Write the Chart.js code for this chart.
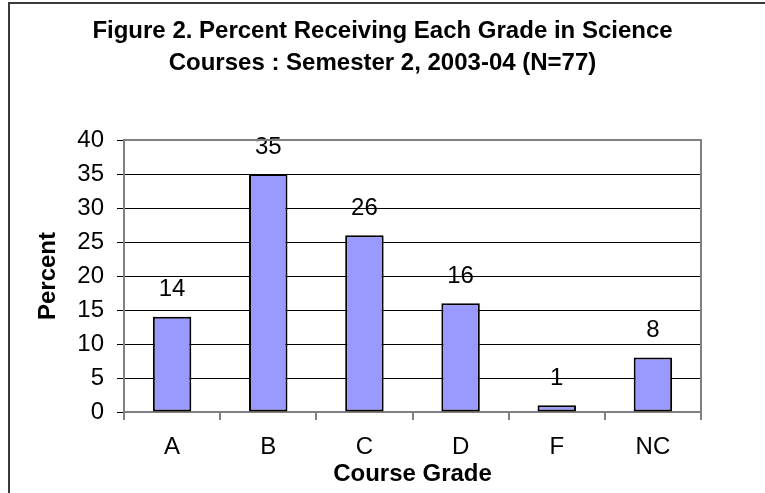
<!DOCTYPE html>
<html>
<head>
<meta charset="utf-8">
<title>Figure 2. Percent Receiving Each Grade in Science Courses</title>
<script src="https://cdn.jsdelivr.net/npm/chart.js@4/dist/chart.umd.min.js"></script>
<style>
  html, body { margin: 0; padding: 0; background: #fff; overflow: hidden; }
  #frame {
    position: absolute; left: 8px; top: 2px; width: 900px; height: 700px;
    border-left: 2px solid #3a3a3a; border-top: 2px solid #3a3a3a;
  }
  #wrap { position: absolute; left: 0; top: 0; width: 765px; height: 493px; }
</style>
</head>
<body>
<div id="frame"></div>
<div id="wrap"><canvas id="gradeChart" width="765" height="493"></canvas></div>
<script>
const titleLines = ["Figure 2. Percent Receiving Each Grade in Science", "Courses : Semester 2, 2003-04 (N=77)"];
const grades = ["A", "B", "C", "D", "F", "NC"];
const percents = [14, 35, 26, 16, 1, 8];
const yTicks = [0, 5, 10, 15, 20, 25, 30, 35, 40];

const FONT = "'Liberation Sans', Arial, sans-serif";

// chart title, centred on the whole figure (not just the plot box)
const figureTitle = {
  id: "figureTitle",
  afterDraw(chart) {
    const { ctx, width } = chart;
    ctx.save();
    ctx.font = "bold 24px " + FONT;
    ctx.fillStyle = "#000";
    ctx.textAlign = "center";
    ctx.textBaseline = "middle";
    titleLines.forEach((line, i) => ctx.fillText(line, width / 2, 31 + i * 32));
    ctx.restore();
  },
};

// plot area border (gray box like the spreadsheet plot area)
const plotBorder = {
  id: "plotBorder",
  afterDraw(chart) {
    const { ctx, chartArea: a } = chart;
    ctx.save();
    ctx.strokeStyle = "#808080";
    ctx.lineWidth = 2;
    ctx.beginPath();
    ctx.moveTo(a.left, a.top);
    ctx.lineTo(a.right, a.top);
    ctx.lineTo(a.right, a.bottom);
    ctx.stroke();
    ctx.restore();
  },
};

// value labels above each bar
const valueLabels = {
  id: "valueLabels",
  afterDatasetsDraw(chart) {
    const { ctx } = chart;
    const meta = chart.getDatasetMeta(0);
    ctx.save();
    ctx.font = "24px " + FONT;
    ctx.fillStyle = "#000";
    ctx.textAlign = "center";
    ctx.textBaseline = "middle";
    meta.data.forEach((bar, i) => {
      ctx.fillText(String(percents[i]), bar.x, bar.y - 27);
    });
    ctx.restore();
  },
};

function initGradeChart() {
  const el = document.getElementById("gradeChart");
  if (!el || typeof Chart === "undefined") return null;

  return new Chart(el.getContext("2d"), {
    type: "bar",
    data: {
      labels: grades,
      datasets: [
        {
          data: percents,
          backgroundColor: "#9999FF",
          borderColor: "#000",
          borderWidth: 2,
          borderSkipped: false,
          barPercentage: 0.4,
          categoryPercentage: 1,
        },
      ],
    },
    options: {
      responsive: false,
      animation: false,
      layout: { padding: { left: 0, right: 64, top: 140, bottom: 0 } },
      plugins: {
        legend: { display: false },
        tooltip: { enabled: false },
        title: { display: false },
      },
      scales: {
        x: {
          afterFit: (s) => { s.height = 81; },
          grid: { display: true, drawOnChartArea: false, drawTicks: true, tickLength: 8, color: "#808080", lineWidth: 2 },
          border: { display: true, color: "#808080", width: 2 },
          ticks: { color: "#000", padding: 13, font: { family: FONT, size: 24 } },
          title: {
            display: true,
            text: "Course Grade",
            color: "#000",
            font: { family: FONT, size: 24, weight: "bold" },
            padding: { top: 0, bottom: 4 },
          },
        },
        y: {
          min: 0,
          max: 40,
          afterFit: (s) => { s.width = 124; },
          afterBuildTicks: (s) => { s.ticks = yTicks.map((v) => ({ value: v })); },
          grid: {
            color: (c) => (c.tick && c.tick.value === 40 ? "rgba(0,0,0,0)" : "#000"),
            tickColor: "#000",
            lineWidth: 1,
            tickLength: 7,
          },
          border: { display: true, color: "#808080", width: 2 },
          ticks: { color: "#000", padding: 13, font: { family: FONT, size: 24 } },
          title: {
            display: true,
            text: "Percent",
            color: "#000",
            font: { family: FONT, size: 24, weight: "bold" },
            padding: { top: 34, bottom: 0 },
          },
        },
      },
    },
    plugins: [figureTitle, plotBorder, valueLabels],
  });
}

document.addEventListener("DOMContentLoaded", initGradeChart);
</script>
</body>
</html>
